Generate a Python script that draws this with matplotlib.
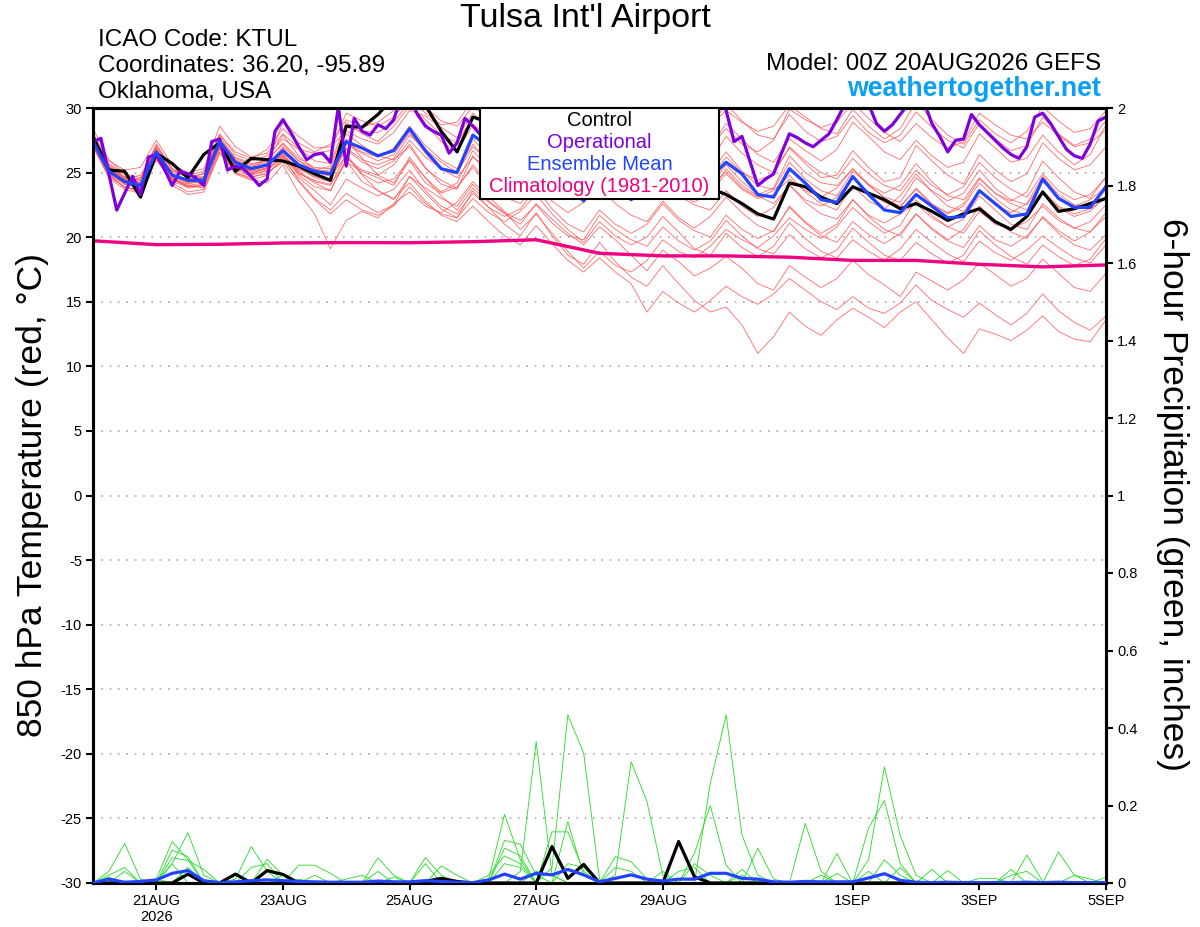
import numpy as np
import matplotlib
matplotlib.use("Agg")
import matplotlib.pyplot as plt
from matplotlib.patches import Rectangle

plt.rcParams['font.family'] = ['Liberation Sans', 'DejaVu Sans']

# ---------------- data ----------------
title = "Tulsa Int'l Airport"
info_lines = ["ICAO Code: KTUL", "Coordinates: 36.20, -95.89", "Oklahoma, USA"]
model_text = "Model: 00Z 20AUG2026 GEFS"
site_text = "weathertogether.net"

tick_days = [1, 3, 5, 7, 9, 12, 14, 16]
tick_labels = ["21AUG\n2026", "23AUG", "25AUG", "27AUG", "29AUG", "1SEP", "3SEP", "5SEP"]

# ensemble mean 850 hPa temperature (6-hourly)
mean_t = [27.4, 25.1, 24.3, 24.0, 26.6, 24.8, 24.4, 24.4,
          27.4, 25.8, 25.3, 25.6, 26.7, 25.6, 25.1, 24.9,
          27.4, 26.9, 26.3, 26.7, 28.4, 26.7, 25.3, 25.0,
          27.9, 27.0, 25.6, 24.6, 26.2, 24.8, 24.0, 22.8,
          25.0, 24.0, 22.9, 24.3, 25.6, 24.6, 24.0, 24.6,
          25.8, 24.9, 23.3, 23.1, 25.3, 24.2, 22.9, 22.7,
          24.7, 23.3, 22.1, 21.9, 23.3, 22.4, 21.5, 21.6,
          23.6, 22.6, 21.6, 21.8, 24.5, 23.0, 22.3, 22.3,
          23.9]

# control member temperature (6-hourly)
ctrl_t = [27.8, 25.2, 25.1, 23.1, 26.5, 25.7, 24.6, 26.4,
          27.3, 25.1, 26.1, 26.0, 25.9, 25.5, 24.9, 24.4,
          28.6, 28.5, 29.5, 30.8, 31.5, 30.2, 28.2, 26.6,
          29.3, 28.9, 27.5, 26.0, 27.0, 25.5, 24.5, 23.6,
          25.0, 24.2, 23.5, 24.5, 25.2, 24.5, 24.0, 23.8,
          23.3, 22.6, 21.8, 21.4, 24.2, 23.9, 23.1, 22.6,
          23.9, 23.4, 22.9, 22.2, 22.6, 22.0, 21.3, 21.8,
          22.2, 21.2, 20.6, 21.6, 23.5, 22.0, 22.2, 22.6,
          23.0]

# operational run temperature (3-hourly)
oper_t = [27.4, 27.65, 24.9, 22.1, 23.4, 24.7, 23.3, 26.2, 26.4, 25.3,
          24.0, 25.1, 24.9, 24.6, 24.0, 27.4, 27.6, 25.2, 25.5, 25.3,
          24.7, 24.0, 24.5, 28.2, 29.1, 28.1, 27.0, 26.0, 26.4, 26.5,
          25.8, 30.1, 25.5, 29.2, 28.2, 27.9, 28.7, 28.4, 29.1, 31.0,
          30.8, 29.5, 28.6, 28.2, 27.9, 26.5, 27.3, 29.2, 28.6, 27.9,
          27.0, 26.5, 26.0, 27.0, 28.5, 29.0, 28.0, 27.0, 26.0, 26.0,
          27.5, 29.0, 28.5, 27.5, 26.5, 26.0, 27.0, 28.5, 29.5, 30.5,
          30.2, 29.5, 28.5, 28.0, 28.0, 29.0, 30.0, 30.5, 31.0, 31.0,
          29.8, 27.4, 27.8, 25.9, 24.0, 24.5, 24.9, 26.5, 28.0, 27.7,
          27.3, 27.0, 27.5, 28.0, 29.1, 30.3, 31.0, 31.0, 30.3, 28.8,
          28.2, 28.7, 29.5, 30.3, 31.0, 30.5, 28.8, 27.8, 26.6, 27.5,
          27.6, 29.5, 28.7, 28.1, 27.5, 26.9, 26.4, 26.1, 27.0, 29.3,
          29.6, 28.8, 27.8, 26.8, 26.3, 26.1, 27.2, 29.0, 29.3]

# climatology (daily, 00Z)
clim_t = [19.72, 19.42, 19.45, 19.55, 19.58, 19.57, 19.65, 19.8, 18.75,
          18.55, 18.55, 18.45, 18.2, 18.2, 17.9, 17.7, 17.85]

# perturbed members temperature (6-hourly)
members_t = [
    [27.9, 25.6, 24.7, 24.5, 27.2, 25.3, 24.8, 25.1, 28.0, 26.4, 25.9, 26.3, 27.6, 26.8, 26.5, 26.7,
     29.6, 29.0, 28.6, 29.3, 30.8, 29.6, 28.7, 28.9, 30.6, 29.4, 28.3, 27.9, 29.8, 28.7, 27.9, 28.3,
     29.9, 28.6, 27.7, 28.2, 30.4, 29.2, 28.3, 28.6, 30.3, 29.0, 27.9, 27.6, 29.5, 28.2, 27.4, 27.8,
     29.4, 28.1, 27.3, 27.9, 29.7, 28.5, 27.5, 26.9, 28.8, 27.6, 26.7, 27.1, 29.3, 28.0, 27.1, 27.6, 29.0],
    [28.4, 26.0, 24.9, 24.2, 26.9, 24.9, 24.2, 24.7, 27.9, 26.6, 26.1, 26.8, 28.4, 27.3, 26.6, 27.2,
     29.1, 28.5, 28.9, 29.8, 31.2, 30.1, 29.0, 28.6, 30.1, 29.3, 28.8, 29.4, 30.7, 29.6, 28.4, 27.9,
     29.4, 28.3, 27.6, 28.8, 31.0, 30.2, 29.1, 28.7, 29.8, 28.9, 28.2, 28.6, 30.2, 29.3, 28.4, 28.0,
     29.9, 28.6, 27.6, 28.4, 30.5, 29.1, 27.9, 27.2, 29.1, 28.0, 27.3, 28.2, 30.1, 29.0, 28.1, 28.4, 29.8],
    [27.6, 25.4, 24.4, 24.1, 26.4, 25.1, 24.9, 24.6, 27.6, 26.0, 25.5, 25.8, 28.9, 27.8, 26.9, 27.0,
     28.2, 27.6, 27.2, 28.1, 29.8, 29.4, 28.5, 27.7, 29.6, 28.5, 27.2, 26.8, 28.4, 27.8, 27.3, 27.9,
     29.2, 28.1, 27.0, 26.6, 28.1, 27.0, 26.1, 26.9, 28.8, 27.6, 26.4, 25.8, 27.6, 26.7, 25.9, 26.8,
     28.9, 27.8, 26.6, 26.0, 27.5, 26.3, 25.4, 25.8, 28.0, 26.9, 25.8, 26.1, 27.9, 26.6, 25.6, 26.4, 28.7],
    [28.0, 25.9, 25.2, 25.4, 27.5, 25.6, 25.0, 25.3, 28.6, 27.0, 26.2, 26.5, 28.0, 26.9, 25.9, 25.7,
     28.9, 28.0, 27.4, 28.6, 30.2, 29.1, 27.9, 27.3, 29.3, 28.6, 28.0, 28.8, 30.3, 29.0, 27.8, 27.2,
     28.6, 27.7, 27.1, 27.8, 29.6, 28.5, 27.3, 27.0, 28.4, 27.2, 26.6, 27.5, 29.9, 29.1, 28.5, 28.9,
     30.4, 29.2, 28.1, 27.4, 28.8, 27.7, 26.9, 27.4, 29.6, 28.7, 27.9, 27.6, 28.9, 27.9, 27.0, 27.3, 28.3],
    [27.1, 25.0, 24.5, 24.8, 26.8, 24.6, 23.8, 24.0, 27.1, 25.7, 25.4, 26.0, 27.9, 26.3, 25.2, 25.5,
     28.5, 28.2, 28.1, 28.9, 30.5, 28.8, 27.4, 26.6, 28.7, 27.9, 27.6, 28.2, 29.5, 28.2, 26.9, 26.3,
     28.0, 26.9, 26.0, 25.8, 27.4, 26.3, 25.4, 25.9, 27.8, 26.5, 25.6, 25.0, 26.9, 25.7, 24.6, 24.8,
     26.7, 25.4, 24.3, 24.6, 27.1, 25.9, 24.8, 24.1, 26.4, 25.2, 24.3, 24.9, 27.3, 26.1, 25.2, 25.6, 27.0],
    [27.3, 24.9, 24.1, 23.8, 26.5, 24.7, 24.3, 24.5, 27.3, 25.6, 25.0, 25.3, 26.9, 25.4, 24.6, 24.3,
     27.2, 26.5, 25.9, 26.4, 28.1, 26.5, 25.2, 24.9, 27.6, 26.3, 25.1, 24.5, 26.9, 25.8, 24.9, 25.3,
     26.8, 25.4, 24.2, 23.8, 25.9, 24.7, 24.3, 25.0, 26.6, 25.1, 24.0, 23.7, 25.8, 24.5, 23.6, 23.2,
     25.1, 24.1, 23.4, 24.0, 25.7, 24.3, 23.2, 22.9, 24.6, 23.4, 22.8, 23.5, 25.9, 24.6, 23.5, 23.0, 24.7],
    [27.0, 24.7, 23.9, 23.5, 26.2, 24.5, 24.0, 24.2, 27.0, 25.5, 25.2, 25.5, 26.4, 25.0, 24.2, 23.6,
     26.1, 25.2, 24.8, 25.6, 27.2, 25.4, 24.1, 23.7, 26.3, 24.8, 23.9, 23.4, 25.4, 24.0, 23.3, 24.1,
     25.8, 24.6, 24.0, 24.7, 26.5, 25.3, 24.6, 24.0, 25.6, 24.3, 23.3, 23.8, 26.3, 25.0, 24.2, 24.0,
     25.3, 24.0, 23.1, 22.7, 24.6, 23.6, 22.8, 23.4, 25.2, 23.8, 22.9, 22.5, 24.3, 23.1, 22.4, 22.9, 23.9],
    [27.6, 25.3, 24.3, 23.9, 26.3, 24.4, 24.0, 23.8, 26.8, 25.3, 24.9, 25.4, 26.5, 25.1, 24.3, 24.0,
     26.4, 24.9, 24.2, 24.5, 26.0, 24.6, 23.5, 24.2, 26.7, 25.4, 24.4, 24.9, 26.2, 24.8, 23.7, 23.1,
     25.0, 23.9, 23.3, 24.2, 25.9, 24.4, 23.6, 23.8, 25.1, 23.8, 23.1, 23.6, 24.8, 23.5, 22.6, 22.1,
     24.0, 22.8, 22.2, 23.2, 24.9, 23.5, 22.4, 22.0, 23.6, 22.5, 21.9, 22.6, 24.7, 23.3, 22.5, 22.3, 24.1],
    [27.2, 25.2, 24.6, 24.4, 27.0, 25.2, 24.6, 24.3, 27.2, 25.5, 24.9, 25.1, 26.3, 25.2, 25.0, 25.2,
     27.6, 26.1, 24.8, 24.2, 25.9, 24.2, 23.4, 23.9, 25.4, 24.0, 23.4, 24.6, 26.4, 25.2, 24.3, 24.0,
     25.6, 24.4, 23.6, 23.2, 24.8, 23.4, 22.7, 23.5, 25.3, 24.0, 23.2, 22.6, 24.0, 22.9, 22.4, 23.1,
     24.6, 23.5, 22.7, 22.3, 23.8, 22.6, 21.8, 22.4, 24.2, 23.0, 22.1, 21.7, 23.4, 22.3, 21.6, 22.0, 23.2],
    [27.5, 25.0, 24.2, 24.0, 26.6, 24.8, 24.5, 24.6, 27.5, 25.9, 25.4, 25.6, 27.0, 25.9, 25.3, 25.0,
     27.3, 26.6, 26.2, 26.9, 28.6, 27.1, 26.0, 25.3, 27.2, 25.7, 24.5, 24.1, 26.0, 24.7, 23.8, 23.5,
     24.8, 23.6, 22.9, 23.4, 24.4, 23.2, 22.5, 22.1, 23.6, 22.4, 21.6, 22.3, 24.1, 22.7, 21.8, 21.4,
     22.9, 21.7, 21.1, 21.8, 22.6, 21.5, 20.8, 20.3, 22.0, 21.0, 20.6, 21.2, 22.4, 21.3, 20.7, 20.4, 21.6],
    [27.3, 25.1, 24.4, 24.2, 26.7, 24.8, 24.4, 24.3, 27.3, 25.8, 25.3, 25.5, 26.6, 25.5, 25.0, 24.8,
     26.8, 25.8, 25.3, 25.9, 27.5, 26.2, 25.3, 24.6, 26.2, 25.3, 24.9, 25.6, 27.4, 26.1, 25.0, 24.4,
     25.7, 24.5, 23.9, 24.6, 26.0, 24.9, 24.1, 23.5, 24.9, 23.7, 23.0, 23.3, 24.5, 23.6, 23.1, 23.8,
     25.3, 24.1, 23.0, 22.4, 23.7, 22.5, 21.9, 22.6, 24.5, 23.4, 22.6, 22.1, 23.6, 22.4, 21.8, 22.2, 23.0],
    [27.4, 25.3, 24.5, 24.1, 26.5, 24.6, 24.2, 24.3, 27.4, 25.7, 25.1, 25.4, 26.7, 25.3, 24.7, 24.5,
     26.9, 26.0, 25.6, 26.1, 27.9, 26.8, 25.8, 25.0, 27.0, 25.9, 25.3, 26.0, 27.6, 26.5, 25.4, 24.8,
     26.6, 25.6, 24.8, 25.3, 27.1, 25.8, 24.9, 24.6, 26.2, 25.0, 24.4, 24.9, 27.0, 25.9, 25.0, 24.5,
     26.1, 24.9, 24.0, 23.6, 25.2, 24.0, 23.3, 23.9, 25.8, 24.6, 23.7, 23.1, 24.9, 23.6, 22.9, 23.3, 24.6],
    [27.1, 24.6, 23.7, 23.4, 26.0, 24.3, 23.9, 24.0, 26.9, 25.2, 24.7, 24.9, 26.0, 24.6, 23.6, 22.5,
     24.5, 23.8, 23.2, 23.7, 25.2, 23.6, 22.4, 21.8, 23.4, 22.3, 21.6, 22.2, 23.8, 22.2, 21.0, 20.4,
     22.1, 21.0, 20.3, 21.0, 22.6, 21.3, 20.5, 20.0, 21.7, 20.6, 19.9, 20.5, 22.3, 21.1, 20.1, 19.6,
     21.2, 20.2, 19.5, 20.3, 21.8, 20.6, 19.7, 19.2, 20.9, 19.8, 19.3, 20.1, 21.5, 20.3, 19.4, 19.0, 20.2],
    [27.0, 24.8, 23.9, 23.6, 26.1, 24.2, 23.5, 23.7, 26.6, 25.0, 24.6, 25.0, 25.8, 24.3, 22.9, 21.8,
     22.9, 22.1, 21.7, 22.4, 23.9, 22.6, 21.8, 21.5, 23.0, 21.9, 21.2, 22.0, 23.3, 21.8, 20.6, 19.6,
     21.2, 20.1, 19.4, 20.0, 21.6, 20.4, 19.1, 18.6, 20.3, 19.2, 18.5, 19.3, 21.1, 19.9, 18.9, 18.4,
     19.8, 18.9, 18.2, 19.1, 20.6, 19.6, 18.7, 18.1, 19.7, 18.8, 18.2, 19.0, 20.1, 19.2, 18.4, 18.0, 19.4],
    [27.8, 25.5, 24.6, 24.2, 26.2, 24.0, 23.3, 23.5, 26.5, 24.9, 24.4, 24.8, 26.2, 24.4, 23.0, 22.1,
     23.4, 22.6, 21.9, 22.5, 24.7, 23.8, 23.0, 22.4, 24.1, 22.8, 21.9, 21.3, 22.5, 21.1, 20.1, 19.8,
     21.7, 20.6, 19.8, 19.3, 20.8, 19.7, 19.0, 19.7, 21.3, 20.1, 19.1, 18.7, 20.2, 19.1, 18.4, 19.0,
     20.7, 19.6, 18.6, 18.2, 19.6, 18.7, 18.0, 18.6, 20.5, 19.4, 18.5, 17.9, 19.4, 18.5, 17.8, 18.3, 19.9],
    [27.5, 25.2, 24.4, 24.1, 26.6, 24.6, 23.9, 24.1, 26.9, 25.0, 24.5, 24.2, 25.6, 23.4, 21.8, 19.1,
     21.3, 22.0, 21.5, 22.6, 23.5, 22.4, 21.9, 22.7, 24.3, 23.1, 22.0, 20.6, 21.8, 20.3, 18.9, 17.6,
     18.9, 17.8, 17.3, 18.2, 19.8, 18.9, 18.4, 19.3, 20.6, 19.8, 19.2, 20.1, 21.5, 20.6, 19.9, 20.8,
     22.3, 21.2, 20.3, 20.9, 22.9, 21.7, 20.8, 21.4, 23.2, 22.1, 21.0, 20.6, 22.6, 21.5, 20.7, 21.2, 22.5],
    [27.2, 24.9, 23.8, 23.7, 26.0, 24.5, 24.1, 24.4, 27.1, 25.4, 24.8, 25.2, 26.4, 24.8, 23.9, 23.6,
     25.9, 24.3, 23.6, 22.9, 24.7, 23.4, 22.2, 21.5, 23.6, 22.3, 21.0, 20.1, 21.9, 20.1, 18.6, 17.9,
     19.6, 18.1, 16.9, 16.2, 17.8, 16.4, 15.1, 14.2, 14.6, 13.2, 11.0, 12.3, 14.2, 13.1, 12.4, 13.6,
     14.5, 13.8, 13.0, 14.2, 15.0, 13.6, 12.2, 11.0, 12.9, 12.5, 12.0, 12.8, 13.9, 12.7, 12.1, 11.9, 13.6],
    [27.9, 25.7, 24.9, 24.6, 27.1, 25.3, 24.6, 24.9, 27.8, 26.1, 25.6, 26.0, 27.2, 25.9, 25.1, 24.7,
     26.3, 24.8, 23.6, 23.0, 24.2, 22.8, 21.7, 21.2, 22.4, 21.2, 20.1, 19.4, 20.9, 19.5, 18.2, 17.3,
     18.4, 17.3, 16.4, 14.2, 15.8, 14.9, 14.2, 15.1, 16.2, 15.4, 14.8, 15.6, 16.8, 15.9, 15.0, 14.4,
     15.4, 14.5, 14.1, 14.9, 16.3, 15.1, 14.4, 13.8, 14.9, 14.0, 13.2, 14.1, 15.6, 14.3, 13.4, 12.8, 13.9],
    [27.4, 25.0, 24.1, 23.9, 26.4, 24.7, 24.3, 24.6, 27.0, 25.6, 25.1, 25.3, 26.2, 24.9, 24.4, 24.1,
     25.8, 25.1, 24.6, 24.0, 26.2, 24.6, 23.2, 22.1, 23.8, 22.7, 21.8, 21.0, 22.6, 21.4, 20.3, 19.4,
     20.8, 19.8, 18.6, 17.4, 19.0, 18.1, 17.0, 17.6, 18.5, 17.6, 16.4, 15.9, 17.8, 16.9, 16.1, 16.8,
     18.2, 17.1, 16.3, 15.4, 17.3, 16.6, 15.9, 16.7, 18.0, 17.1, 16.2, 16.8, 18.3, 17.2, 16.1, 15.8, 17.2],
    [27.7, 25.4, 24.6, 24.4, 26.8, 25.0, 24.7, 24.9, 27.6, 26.2, 25.7, 25.9, 27.3, 26.1, 25.4, 25.3,
     28.0, 27.1, 26.3, 26.0, 27.0, 25.3, 24.4, 23.8, 25.6, 24.2, 23.1, 22.6, 24.0, 22.8, 21.9, 22.7,
     23.9, 22.6, 21.7, 21.2, 22.8, 21.5, 20.7, 21.6, 23.1, 21.9, 20.9, 20.4, 22.4, 21.2, 20.3, 21.0,
     22.9, 21.6, 20.6, 20.1, 21.8, 20.7, 19.8, 20.6, 22.4, 21.3, 20.4, 19.9, 21.6, 20.5, 19.7, 20.4, 21.9],
]

# 6-hour precipitation (inches)
ctrl_p = [0, 0, 0, 0, 0, 0, 0.023, 0, 0, 0.023, 0, 0.032, 0.022,
          0, 0, 0, 0, 0, 0, 0, 0, 0.004, 0.012, 0.004, 0, 0,
          0, 0, 0, 0.094, 0.012, 0.048, 0, 0, 0, 0, 0, 0.107, 0.016,
          0, 0, 0, 0, 0, 0, 0, 0, 0, 0, 0, 0, 0,
          0, 0, 0, 0, 0, 0, 0, 0, 0, 0, 0, 0, 0]

mean_p = [0, 0.01, 0.002, 0.004, 0.008, 0.025, 0.032, 0.006, 0.001, 0.003, 0.006, 0.008, 0.006,
          0.004, 0.003, 0.002, 0.002, 0.002, 0.005, 0.003, 0.003, 0.006, 0.004, 0.002, 0.001, 0.008,
          0.023, 0.01, 0.025, 0.021, 0.035, 0.021, 0.003, 0.012, 0.021, 0.01, 0.005, 0.01, 0.01,
          0.025, 0.025, 0.012, 0.01, 0.003, 0.002, 0.004, 0.003, 0.003, 0.003, 0.013, 0.024, 0.007,
          0.002, 0.001, 0.002, 0.001, 0.001, 0.001, 0.001, 0.002, 0.001, 0.002, 0.001, 0.001, 0.001]

members_p = [
    [0, 0.03, 0.102, 0.01, 0, 0, 0, 0, 0, 0, 0, 0, 0,
     0.01, 0, 0, 0, 0, 0, 0, 0, 0, 0, 0, 0, 0,
     0, 0, 0, 0, 0, 0, 0, 0, 0, 0, 0, 0, 0,
     0.257, 0.434, 0.124, 0.02, 0, 0, 0, 0, 0, 0, 0, 0, 0,
     0, 0, 0, 0, 0, 0, 0, 0, 0, 0, 0, 0, 0],
    [0, 0, 0, 0, 0.01, 0.107, 0.06, 0, 0, 0, 0, 0, 0,
     0, 0, 0, 0, 0, 0, 0, 0, 0, 0, 0, 0, 0,
     0, 0, 0, 0.04, 0.434, 0.335, 0.01, 0, 0, 0, 0, 0, 0,
     0, 0, 0, 0, 0, 0, 0, 0, 0, 0, 0, 0, 0,
     0, 0, 0, 0, 0, 0, 0, 0, 0, 0, 0, 0, 0],
    [0, 0, 0, 0, 0, 0.05, 0.13, 0.02, 0, 0, 0, 0, 0,
     0, 0, 0, 0, 0, 0, 0, 0, 0, 0, 0, 0, 0,
     0, 0.03, 0.365, 0.02, 0, 0, 0, 0, 0, 0, 0, 0, 0,
     0, 0, 0, 0, 0, 0, 0, 0, 0, 0, 0.03, 0, 0,
     0, 0, 0, 0, 0, 0, 0, 0, 0, 0, 0, 0, 0],
    [0, 0, 0, 0, 0, 0, 0, 0, 0, 0.01, 0.094, 0.03, 0,
     0, 0, 0, 0, 0, 0, 0, 0, 0, 0, 0, 0, 0,
     0, 0, 0, 0, 0, 0, 0, 0.02, 0.313, 0.21, 0.02, 0, 0,
     0, 0, 0, 0, 0, 0, 0, 0, 0, 0, 0, 0, 0,
     0, 0, 0, 0, 0, 0, 0.035, 0, 0, 0, 0, 0, 0],
    [0, 0, 0, 0, 0, 0, 0, 0, 0, 0, 0, 0, 0,
     0, 0, 0, 0, 0, 0, 0, 0, 0, 0, 0, 0, 0.01,
     0.177, 0.06, 0, 0, 0, 0, 0, 0, 0, 0, 0, 0, 0,
     0, 0, 0, 0, 0, 0, 0, 0, 0, 0, 0.06, 0.30, 0.122,
     0.02, 0, 0, 0, 0, 0, 0, 0, 0, 0, 0, 0, 0],
    [0, 0.02, 0.04, 0, 0, 0, 0, 0, 0, 0, 0, 0, 0,
     0, 0, 0, 0, 0, 0, 0, 0, 0, 0, 0, 0, 0,
     0.11, 0.1, 0.02, 0, 0, 0, 0, 0, 0, 0, 0, 0, 0.077,
     0.2, 0.046, 0, 0, 0, 0, 0, 0, 0, 0, 0, 0, 0,
     0, 0, 0, 0, 0, 0, 0, 0, 0, 0.08, 0.02, 0, 0],
    [0, 0, 0, 0, 0, 0.085, 0.068, 0, 0, 0, 0, 0, 0,
     0, 0, 0, 0, 0, 0, 0, 0, 0, 0, 0, 0, 0,
     0, 0, 0, 0.132, 0.132, 0.03, 0, 0, 0, 0, 0, 0, 0,
     0, 0, 0, 0, 0, 0, 0.154, 0.03, 0, 0, 0, 0, 0,
     0, 0, 0, 0, 0, 0, 0, 0, 0, 0, 0, 0, 0],
    [0, 0, 0, 0, 0, 0, 0, 0, 0, 0, 0, 0, 0,
     0, 0, 0, 0, 0, 0, 0, 0, 0, 0, 0, 0, 0,
     0, 0, 0, 0, 0.158, 0.02, 0, 0, 0, 0, 0, 0, 0,
     0, 0, 0, 0, 0, 0, 0, 0, 0, 0, 0.142, 0.213, 0.05,
     0, 0.035, 0, 0, 0, 0, 0, 0, 0, 0, 0, 0, 0],
    [0, 0, 0, 0, 0, 0, 0, 0, 0, 0, 0, 0, 0,
     0.046, 0.046, 0.025, 0, 0, 0, 0, 0, 0, 0, 0, 0, 0,
     0, 0, 0, 0, 0, 0, 0, 0, 0, 0, 0, 0, 0,
     0, 0, 0, 0.09, 0.01, 0, 0, 0, 0, 0, 0, 0, 0,
     0, 0, 0, 0, 0, 0, 0, 0.072, 0.004, 0, 0, 0, 0],
    [0, 0, 0, 0, 0, 0, 0, 0, 0, 0, 0, 0, 0,
     0, 0, 0, 0, 0, 0.065, 0.02, 0, 0.066, 0.02, 0, 0, 0,
     0, 0, 0, 0, 0, 0, 0, 0, 0, 0, 0, 0, 0,
     0, 0, 0, 0, 0, 0, 0, 0, 0.076, 0, 0, 0, 0,
     0, 0, 0, 0, 0, 0, 0, 0, 0, 0, 0, 0, 0.015],
    [0, 0, 0, 0, 0, 0, 0, 0, 0, 0, 0, 0.061, 0.02,
     0, 0, 0, 0, 0, 0, 0, 0, 0, 0.044, 0.02, 0, 0,
     0, 0, 0, 0, 0, 0, 0, 0.068, 0.055, 0.01, 0, 0, 0,
     0, 0, 0, 0, 0, 0, 0, 0, 0, 0, 0, 0, 0,
     0, 0, 0.032, 0, 0, 0, 0, 0, 0, 0, 0, 0, 0],
    [0, 0, 0.03, 0, 0, 0.065, 0.058, 0.035, 0, 0, 0, 0, 0,
     0, 0, 0, 0, 0, 0, 0, 0, 0, 0, 0, 0, 0,
     0.05, 0.04, 0, 0, 0, 0, 0, 0, 0, 0, 0, 0.03, 0.04,
     0, 0, 0, 0, 0, 0, 0, 0, 0, 0, 0, 0, 0,
     0, 0, 0, 0, 0.012, 0.012, 0, 0, 0, 0, 0, 0, 0],
    [0, 0, 0, 0, 0, 0.05, 0, 0, 0, 0, 0.04, 0.05, 0,
     0, 0, 0, 0, 0, 0.03, 0, 0, 0.05, 0, 0, 0, 0,
     0, 0, 0.03, 0.02, 0, 0, 0, 0, 0, 0, 0, 0, 0,
     0, 0, 0.035, 0, 0, 0, 0, 0, 0, 0, 0, 0, 0,
     0, 0, 0, 0, 0, 0, 0, 0, 0, 0, 0.02, 0.01, 0],
    [0, 0.015, 0, 0, 0, 0, 0.04, 0, 0, 0, 0, 0, 0,
     0, 0, 0, 0.01, 0.02, 0, 0, 0, 0, 0, 0, 0, 0.02,
     0.07, 0.05, 0, 0, 0, 0, 0, 0, 0, 0, 0.03, 0, 0,
     0, 0, 0, 0, 0, 0, 0, 0, 0.025, 0, 0, 0, 0.04,
     0, 0, 0, 0, 0, 0, 0, 0, 0, 0, 0, 0, 0],
    [0, 0, 0, 0, 0, 0, 0, 0, 0, 0.02, 0, 0, 0.02,
     0, 0, 0, 0, 0, 0, 0, 0, 0, 0, 0, 0, 0,
     0, 0, 0, 0, 0.05, 0.04, 0, 0, 0, 0, 0, 0, 0.05,
     0.02, 0, 0, 0, 0, 0, 0, 0.02, 0, 0, 0, 0, 0,
     0, 0, 0, 0, 0, 0, 0.02, 0.03, 0, 0, 0, 0, 0],
    [0, 0, 0, 0, 0.01, 0, 0, 0, 0, 0, 0, 0, 0,
     0, 0.02, 0, 0, 0, 0, 0.015, 0, 0, 0, 0, 0, 0,
     0.09, 0.07, 0, 0, 0, 0, 0, 0.04, 0.03, 0, 0, 0, 0,
     0, 0, 0.02, 0, 0, 0, 0, 0, 0, 0, 0, 0.06, 0.02,
     0, 0, 0, 0, 0, 0, 0, 0, 0, 0, 0, 0, 0],
]

# ---------------- styles ----------------
RED = '#ff5050'
GREEN = '#30dd30'
BLACK = '#000000'
PURPLE = '#7f00dd'
BLUE = '#2244ff'
MAGENTA = '#ee0080'

W, H = 1200, 927
fig = plt.figure(figsize=(W / 100, H / 100), dpi=100)
L, R, B, T = 93, 1106, 883, 108
ax = fig.add_axes([L / W, (H - B) / H, (R - L) / W, (B - T) / H])
ax2 = ax.twinx()

t6 = np.arange(65) * 0.25
t3 = np.arange(129) * 0.125
td = np.arange(17) * 1.0

for m in members_t:
    ax.plot(t6[:len(m)], m, color=RED, lw=0.6, alpha=0.85, zorder=2)
ax.plot(td[:len(clim_t)], clim_t, color=MAGENTA, lw=2.4, zorder=4, solid_capstyle='butt')
ax.plot(t6[:len(ctrl_t)], ctrl_t, color=BLACK, lw=2.3, zorder=5)
ax.plot(t3[:len(oper_t)], oper_t, color=PURPLE, lw=2.3, zorder=6)
ax.plot(t6[:len(mean_t)], mean_t, color=BLUE, lw=2.3, zorder=7)

for m in members_p:
    ax2.plot(t6[:len(m)], m, color=GREEN, lw=0.65, zorder=2)
ax2.plot(t6[:len(ctrl_p)], ctrl_p, color=BLACK, lw=2.3, zorder=5)
ax2.plot(t6[:len(mean_p)], mean_p, color=BLUE, lw=2.3, zorder=6)

ax.set_xlim(0, 16)
ax.set_ylim(-30, 30)
ax2.set_ylim(0, 2)

ax.set_yticks(np.arange(-30, 31, 5))
ax.set_yticklabels([str(v) for v in range(-30, 31, 5)])
ax.yaxis.grid(True, linestyle=(0, (1, 4)), color='#aaaaaa', lw=1.2)
ax.set_axisbelow(True)

ax2.set_yticks(np.arange(0, 2.01, 0.2))
ax2.set_yticklabels(['0', '0.2', '0.4', '0.6', '0.8', '1', '1.2', '1.4', '1.6', '1.8', '2'])

ax.set_xticks(tick_days)
ax.set_xticklabels(tick_labels)

for a in (ax, ax2):
    for s in a.spines.values():
        s.set_linewidth(2.2)
        s.set_color('black')
ax.tick_params(axis='both', direction='out', length=5, width=1.5, labelsize=10.5, pad=3)
ax2.tick_params(axis='y', direction='out', length=5, width=1.5, labelsize=10.5, pad=3)

# titles and texts
fig.text(585 / W, 1 - 18 / H, title, ha='center', va='center', fontsize=24.5)
for k, line in enumerate(info_lines):
    fig.text(98 / W, 1 - (40 + 26 * k) / H, line, ha='left', va='center', fontsize=17.5)
fig.text(1101 / W, 1 - 64 / H, model_text, ha='right', va='center', fontsize=17.5)
fig.text(1101 / W, 1 - 89 / H, site_text, ha='right', va='center', fontsize=19.3,
         fontweight='bold', color='#0aa0f5')

fig.text(33 / W, 1 - 495 / H, "850 hPa Temperature (red, °C)", rotation=90,
         ha='center', va='center', fontsize=25.5)
fig.text(1173 / W, 1 - 495 / H, "6-hour Precipitation (green, inches)", rotation=270,
         ha='center', va='center', fontsize=25.5)

# legend box
fig.add_artist(Rectangle((480 / W, 1 - 199 / H), 239 / W, 91 / H, transform=fig.transFigure,
                         facecolor='white', edgecolor='black', lw=1.5, zorder=10))
legend_items = [("Control", BLACK), ("Operational", PURPLE),
                ("Ensemble Mean", BLUE), ("Climatology (1981-2010)", MAGENTA)]
for k, (txt, col) in enumerate(legend_items):
    fig.text(599.5 / W, 1 - (121 + 21.7 * k) / H, txt, ha='center', va='center',
             fontsize=14.5, color=col, zorder=11)

fig.savefig("out.png", dpi=100)
